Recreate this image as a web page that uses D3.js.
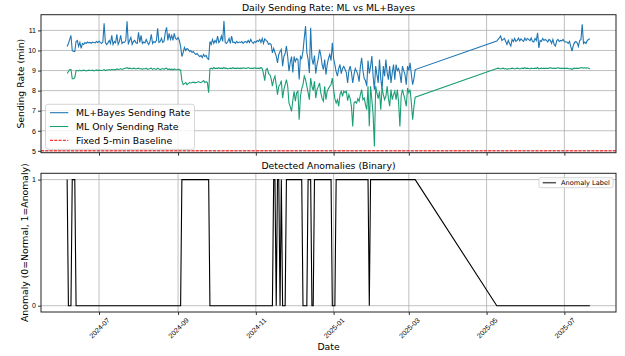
<!DOCTYPE html>
<html>
<head>
<meta charset="utf-8">
<script src="https://cdn.jsdelivr.net/npm/d3@7"></script>
<style>
  body { margin: 0; background: #fff; }
  svg { display: block; font-family: 'DejaVu Sans', sans-serif; }
  .grid line { stroke: #b0b0b0; stroke-width: 0.8; }
  .tick line { stroke: #000; stroke-width: 0.8; }
  .tick text { fill: #000; font-size: 7px; }
  .frame { fill: none; stroke: #222; stroke-width: 1; }
  .title, .label { font-size: 9.3px; fill: #000; }
</style>
</head>
<body>
<div id="chart"></div>
<script>
// first run of daily values, 2024-06-06 .. 2025-03-06
const seg1Start = '2024-06-06';
const bayesRate1 = [
  10.2, 10.35, 10.55, 10.75, 10.0, 9.95, 9.95, 10.45, 10.5, 10.2,
  10.4, 10.1, 10.35, 10.3, 10.4, 10.35, 10.42, 10.38, 10.4, 10.36,
  10.42, 10.4, 10.38, 10.45, 10.4, 10.46, 10.4, 10.35, 10.42, 11.35,
  10.4, 10.3, 10.38, 10.5, 10.35, 10.75, 10.3, 10.45, 10.38, 10.8,
  10.3, 10.45, 10.75, 10.35, 10.42, 10.4, 10.5, 11.45, 10.3, 10.5,
  10.65, 10.3, 10.45, 10.5, 10.38, 10.35, 10.9, 10.4, 10.75, 10.35,
  10.42, 10.38, 10.55, 10.4, 10.3, 10.45, 10.8, 10.35, 10.45, 10.4,
  10.5, 11.1, 10.4, 10.45, 10.6, 10.4, 10.45, 10.9, 11.15, 10.5,
  10.85, 10.55, 10.75, 10.5, 10.85, 10.6, 10.55, 10.65, 10.5, 10.2,
  9.7, 9.9, 10.15, 10.0, 10.1, 10.05, 9.95, 10.0, 9.9, 9.95,
  9.85, 9.8, 9.85, 9.75, 9.7, 9.75, 9.65, 9.8, 9.7, 9.75,
  9.6, 9.55, 10.45, 10.3, 10.55, 10.35, 10.5, 10.4, 10.72, 10.4,
  10.5, 10.72, 10.45, 11.47, 10.4, 10.35, 10.45, 10.6, 10.35, 10.72,
  10.4, 10.42, 10.35, 10.45, 10.38, 10.42, 10.4, 10.45, 10.35, 10.42,
  10.45, 10.38, 10.5, 10.4, 10.55, 10.42, 10.35, 10.45, 10.4, 10.5,
  10.45, 10.55, 10.4, 10.6, 10.35, 10.58, 10.5, 10.45, 10.3, 10.35,
  10.3, 9.88, 10.1, 9.9, 9.72, 9.38, 9.8, 9.95, 10.05, 9.22,
  9.7, 9.85, 10.22, 9.7, 8.97, 9.4, 9.7, 8.9, 9.7, 9.45,
  9.6, 9.55, 8.55, 9.7, 9.6, 9.97, 10.63, 11.22, 9.9, 9.55,
  8.88, 11.13, 9.6, 9.3, 9.75, 8.85, 9.3, 9.6, 10.05, 9.75,
  9.3, 9.05, 9.55, 8.8, 9.3, 9.6, 9.8, 9.5, 10.38, 9.6,
  9.3, 8.95, 8.72, 9.1, 9.3, 8.85, 9.1, 9.2, 9.05, 8.9,
  8.38, 9.0, 9.22, 8.9, 8.38, 8.8, 9.1, 8.97, 8.8, 8.45,
  9.2, 9.63, 9.0, 8.6, 8.5, 8.22, 9.5, 8.85, 9.2, 9.72,
  8.7, 8.05, 9.22, 8.8, 8.38, 9.55, 8.6, 8.05, 9.22, 8.72,
  9.55, 8.9, 8.55, 9.22, 8.38, 8.9, 9.3, 8.55, 9.3, 9.0,
  9.1, 8.85, 8.38, 9.22, 9.0, 8.8, 8.3, 9.22, 9.0, 9.38,
  8.8, 8.3, 8.6, 9.05
];
const mlRate1 = [
  8.85, 8.95, 9.05, 9.05, 8.6, 8.6, 8.65, 9.0, 9.0, 8.98,
  9.02, 8.98, 9.0, 9.02, 9.0, 8.98, 9.0, 9.02, 9.0, 9.0,
  9.02, 8.98, 9.0, 9.03, 9.0, 9.02, 9.0, 9.0, 9.02, 9.05,
  9.0, 9.02, 9.03, 9.05, 9.02, 9.06, 9.03, 9.05, 9.04, 9.08,
  9.05, 9.06, 9.1, 9.06, 9.08, 9.1, 9.12, 9.15, 9.1, 9.12,
  9.1, 9.08, 9.12, 9.1, 9.08, 9.1, 9.12, 9.08, 9.1, 9.06,
  9.1, 9.08, 9.12, 9.06, 9.08, 9.1, 9.12, 9.06, 9.1, 9.08,
  9.06, 9.12, 9.08, 9.05, 9.08, 9.1, 9.06, 9.1, 9.12, 9.05,
  9.08, 9.05, 9.07, 9.04, 9.08, 9.05, 9.04, 9.06, 9.05, 9.02,
  8.5, 8.3, 8.35, 8.4, 8.3, 8.35, 8.4, 8.38, 8.4, 8.42,
  8.4, 8.4, 8.42, 8.45, 8.42, 8.4, 8.45, 8.5, 8.4, 8.45,
  8.4, 7.9, 9.1, 9.12, 9.08, 9.15, 9.1, 9.12, 9.1, 9.14,
  9.1, 9.12, 9.1, 9.15, 9.1, 9.12, 9.08, 9.1, 9.12, 9.1,
  9.14, 9.1, 9.12, 9.1, 9.13, 9.1, 9.12, 9.1, 9.14, 9.12,
  9.1, 9.12, 9.15, 9.12, 9.1, 9.12, 9.1, 9.14, 9.12, 9.1,
  9.12, 9.1, 9.15, 9.1, 8.85, 8.5, 9.05, 9.1, 8.85, 8.8,
  8.6, 8.22, 8.55, 8.72, 8.3, 7.8, 8.22, 8.3, 8.5, 7.63,
  8.05, 8.3, 8.55, 8.22, 7.38, 7.2, 6.97, 7.5, 7.97, 7.47,
  7.9, 7.97, 6.55, 7.72, 8.1, 8.3, 8.72, 8.55, 8.22, 7.9,
  7.55, 8.63, 8.22, 8.0, 8.47, 7.63, 8.05, 8.2, 8.38, 7.88,
  7.6, 7.47, 8.22, 7.55, 7.97, 8.1, 8.22, 8.3, 8.63, 8.05,
  7.6, 7.38, 7.55, 7.22, 7.8, 7.97, 7.72, 7.97, 7.9, 7.97,
  7.5, 7.8, 7.6, 7.2, 6.22, 7.38, 7.45, 7.38, 7.6, 7.47,
  7.8, 8.05, 7.55, 7.63, 7.3, 7.05, 8.22, 6.22, 8.22, 7.55,
  6.8, 5.22, 8.22, 7.88, 7.6, 7.97, 7.05, 8.13, 7.8, 7.55,
  7.72, 8.22, 7.6, 7.22, 8.05, 7.55, 7.8, 7.97, 7.55, 8.05,
  7.4, 6.22, 7.72, 8.05, 7.8, 7.55, 7.22, 8.13, 7.9, 8.05,
  7.38, 6.55, 7.2, 7.67
];
const anomaly1 = [
  1, 0, 0, 0, 1, 1, 1, 0, 0, 0,
  0, 0, 0, 0, 0, 0, 0, 0, 0, 0,
  0, 0, 0, 0, 0, 0, 0, 0, 0, 0,
  0, 0, 0, 0, 0, 0, 0, 0, 0, 0,
  0, 0, 0, 0, 0, 0, 0, 0, 0, 0,
  0, 0, 0, 0, 0, 0, 0, 0, 0, 0,
  0, 0, 0, 0, 0, 0, 0, 0, 0, 0,
  0, 0, 0, 0, 0, 0, 0, 0, 0, 0,
  0, 0, 0, 0, 0, 0, 0, 0, 0, 0,
  1, 1, 1, 1, 1, 1, 1, 1, 1, 1,
  1, 1, 1, 1, 1, 1, 1, 1, 1, 1,
  1, 1, 0, 0, 0, 0, 0, 0, 0, 0,
  0, 0, 0, 0, 0, 0, 0, 0, 0, 0,
  0, 0, 0, 0, 0, 0, 0, 0, 0, 0,
  0, 0, 0, 0, 0, 0, 0, 0, 0, 0,
  0, 0, 0, 0, 0, 0, 0, 0, 0, 0,
  0, 0, 1, 1, 0, 1, 1, 0, 1, 0,
  0, 0, 1, 1, 1, 1, 1, 1, 1, 1,
  1, 1, 1, 1, 1, 0, 0, 0, 0, 1,
  1, 1, 0, 0, 1, 1, 1, 1, 1, 1,
  1, 1, 1, 1, 1, 1, 1, 1, 0, 0,
  0, 1, 1, 1, 1, 1, 1, 1, 1, 1,
  1, 1, 1, 1, 1, 1, 1, 1, 1, 1,
  1, 1, 1, 1, 1, 1, 1, 0, 1, 1,
  1, 1, 1, 1, 1, 1, 1, 1, 1, 1,
  1, 1, 1, 1, 1, 1, 1, 1, 1, 1,
  1, 1, 1, 1, 1, 1, 1, 1, 1, 1,
  1, 1, 1, 1
];

// second run of daily values, 2025-05-09 .. 2025-07-21
const seg2Start = '2025-05-09';
const bayesRate2 = [
  10.47, 10.55, 10.63, 10.72, 10.5, 10.55, 10.6, 10.45, 10.3, 10.5,
  10.35, 10.22, 10.55, 10.45, 10.6, 10.45, 10.5, 10.62, 10.48, 10.58,
  10.5, 10.45, 10.62, 10.5, 10.6, 10.55, 10.48, 10.62, 10.45, 10.42,
  10.6, 10.5, 10.88, 10.13, 10.5, 10.45, 10.6, 10.5, 10.55, 10.5,
  10.42, 10.55, 10.5, 10.35, 10.55, 10.3, 10.22, 10.48, 10.55, 10.45,
  10.5, 10.48, 10.55, 10.45, 10.42, 10.42, 10.35, 10.45, 10.2, 9.97,
  10.25, 10.4, 10.45, 10.38, 10.2, 10.5, 10.55, 11.3, 10.35, 10.42,
  10.35, 10.5, 10.55, 10.58
];
const mlRate2 = [
  9.1, 9.12, 9.1, 9.08, 9.1, 9.12, 9.08, 9.1, 9.06, 9.1,
  9.08, 9.1, 9.12, 9.1, 9.08, 9.1, 9.12, 9.1, 9.08, 9.1,
  9.12, 9.1, 9.14, 9.1, 9.12, 9.1, 9.08, 9.12, 9.1, 9.1,
  9.12, 9.1, 9.15, 9.08, 9.1, 9.12, 9.1, 9.12, 9.1, 9.12,
  9.1, 9.12, 9.14, 9.12, 9.1, 9.12, 9.1, 9.12, 9.14, 9.12,
  9.1, 9.12, 9.1, 9.12, 9.1, 9.12, 9.1, 9.08, 9.1, 9.05,
  9.1, 9.12, 9.1, 9.12, 9.1, 9.12, 9.14, 9.15, 9.12, 9.14,
  9.12, 9.14, 9.12, 9.08
];
const anomaly2 = [
  0, 0, 0, 0, 0, 0, 0, 0, 0, 0,
  0, 0, 0, 0, 0, 0, 0, 0, 0, 0,
  0, 0, 0, 0, 0, 0, 0, 0, 0, 0,
  0, 0, 0, 0, 0, 0, 0, 0, 0, 0,
  0, 0, 0, 0, 0, 0, 0, 0, 0, 0,
  0, 0, 0, 0, 0, 0, 0, 0, 0, 0,
  0, 0, 0, 0, 0, 0, 0, 0, 0, 0,
  0, 0, 0, 0
];

const baselineRate = 5;
const xTickLabels = ['2024-07', '2024-09', '2024-11', '2025-01', '2025-03', '2025-05', '2025-07'];
const rateTicks = [5, 6, 7, 8, 9, 10, 11];
const anomalyTicks = [0, 1];

const width = 625;
const height = 356;
const plotLeft = 41;
const plotRight = 616;
const topPanel = { top: 14.7, bottom: 152.7 };
const bottomPanel = { top: 173.3, bottom: 312 };

const colors = { bayes: '#1f77b4', ml: '#1b9e77', baseline: '#ff0000', anomaly: '#000' };

const parseDay = d3.utcParse('%Y-%m-%d');
const parseMonth = d3.utcParse('%Y-%m');

function toRows(start, bayes, ml, anomaly) {
  const t0 = parseDay(start);
  return bayes.map((v, i) => ({ date: d3.utcDay.offset(t0, i), bayes: v, ml: ml[i], anomaly: anomaly[i] }));
}

const rows = toRows(seg1Start, bayesRate1, mlRate1, anomaly1)
  .concat(toRows(seg2Start, bayesRate2, mlRate2, anomaly2));

// matplotlib-style 5% margins
const [d0, d1] = d3.extent(rows, (d) => d.date);
const xPad = (d1 - d0) * 0.05;
const x = d3.scaleUtc()
  .domain([new Date(+d0 - xPad), new Date(+d1 + xPad)])
  .range([plotLeft, plotRight]);

const rateMin = d3.min(rows, (d) => Math.min(d.bayes, d.ml));
const rateMax = d3.max(rows, (d) => Math.max(d.bayes, d.ml));
const yPad = (rateMax - rateMin) * 0.05;
const yRate = d3.scaleLinear()
  .domain([rateMin - yPad, rateMax + yPad])
  .range([topPanel.bottom, topPanel.top]);

const yAnom = d3.scaleLinear()
  .domain([-0.05, 1.05])
  .range([bottomPanel.bottom, bottomPanel.top]);

const xTicks = xTickLabels.map(parseMonth);

const svg = d3.select('#chart')
  .append('svg')
  .attr('width', width)
  .attr('height', height);

function drawGrid(panel, yScale, yTicks) {
  const g = svg.append('g').attr('class', 'grid');
  g.selectAll('.gx')
    .data(xTicks)
    .join('line')
    .attr('x1', (d) => x(d)).attr('x2', (d) => x(d))
    .attr('y1', panel.top).attr('y2', panel.bottom);
  g.selectAll('.gy')
    .data(yTicks)
    .join('line')
    .attr('x1', plotLeft).attr('x2', plotRight)
    .attr('y1', (d) => yScale(d)).attr('y2', (d) => yScale(d));
}

function drawAxes(panel, yScale, yTicks, showDates) {
  const yAxis = svg.append('g')
    .attr('transform', `translate(${plotLeft}, 0)`)
    .call(d3.axisLeft(yScale).tickValues(yTicks).tickSize(3).tickPadding(2).tickFormat(d3.format('d')));
  yAxis.select('.domain').remove();

  const xAxis = svg.append('g')
    .attr('transform', `translate(0, ${panel.bottom})`)
    .call(d3.axisBottom(x).tickValues(xTicks).tickSize(3)
      .tickFormat(showDates ? d3.utcFormat('%Y-%m') : ''));
  xAxis.select('.domain').remove();

  if (showDates) {
    xAxis.selectAll('.tick text')
      .attr('y', 0)
      .attr('dy', '0.35em')
      .attr('text-anchor', 'middle')
      .attr('transform', 'translate(0, 16) rotate(-45)');
  }

  svg.append('rect')
    .attr('class', 'frame')
    .attr('x', plotLeft)
    .attr('y', panel.top)
    .attr('width', plotRight - plotLeft)
    .attr('height', panel.bottom - panel.top);
}

// top panel
drawGrid(topPanel, yRate, rateTicks);

const bayesLine = d3.line().x((d) => x(d.date)).y((d) => yRate(d.bayes));
const mlLine = d3.line().x((d) => x(d.date)).y((d) => yRate(d.ml));

svg.append('path')
  .datum(rows)
  .attr('fill', 'none')
  .attr('stroke', colors.bayes)
  .attr('stroke-width', 1.1)
  .attr('d', bayesLine);

svg.append('path')
  .datum(rows)
  .attr('fill', 'none')
  .attr('stroke', colors.ml)
  .attr('stroke-width', 1.1)
  .attr('d', mlLine);

svg.append('line')
  .attr('x1', plotLeft).attr('x2', plotRight)
  .attr('y1', yRate(baselineRate)).attr('y2', yRate(baselineRate))
  .attr('stroke', colors.baseline)
  .attr('stroke-width', 1)
  .attr('stroke-dasharray', '3,1.3');

drawAxes(topPanel, yRate, rateTicks, false);

svg.append('text')
  .attr('class', 'title')
  .attr('x', (plotLeft + plotRight) / 2)
  .attr('y', 11)
  .attr('text-anchor', 'middle')
  .text('Daily Sending Rate: ML vs ML+Bayes');

svg.append('text')
  .attr('class', 'label')
  .attr('text-anchor', 'middle')
  .attr('dy', '0.35em')
  .attr('transform', `translate(20.7, ${(topPanel.top + topPanel.bottom) / 2}) rotate(-90)`)
  .text('Sending Rate (min)');

// top legend
const legendTop = svg.append('g').attr('transform', 'translate(45.5, 104.3)');
legendTop.append('rect')
  .attr('width', 149).attr('height', 45)
  .attr('rx', 2.5)
  .attr('fill', '#fff').attr('fill-opacity', 0.8)
  .attr('stroke', '#cccccc').attr('stroke-width', 0.8);

const legendItems = [
  { label: 'ML+Bayes Sending Rate', color: colors.bayes, dash: null },
  { label: 'ML Only Sending Rate', color: colors.ml, dash: null },
  { label: 'Fixed 5-min Baseline', color: colors.baseline, dash: '3,1.3' },
];
legendItems.forEach((item, i) => {
  const cy = 8.4 + i * 13.8;
  legendTop.append('line')
    .attr('x1', 4.5).attr('x2', 22.8)
    .attr('y1', cy).attr('y2', cy)
    .attr('stroke', item.color)
    .attr('stroke-width', item.dash ? 1 : 1.1)
    .attr('stroke-dasharray', item.dash);
  legendTop.append('text')
    .attr('class', 'label')
    .attr('x', 30.5)
    .attr('y', cy)
    .attr('dy', '0.35em')
    .text(item.label);
});

// bottom panel
drawGrid(bottomPanel, yAnom, anomalyTicks);

svg.append('path')
  .datum(rows)
  .attr('fill', 'none')
  .attr('stroke', colors.anomaly)
  .attr('stroke-width', 1.1)
  .attr('d', d3.line().x((d) => x(d.date)).y((d) => yAnom(d.anomaly)));

drawAxes(bottomPanel, yAnom, anomalyTicks, true);

svg.append('text')
  .attr('class', 'title')
  .attr('x', (plotLeft + plotRight) / 2)
  .attr('y', 169)
  .attr('text-anchor', 'middle')
  .text('Detected Anomalies (Binary)');

svg.append('text')
  .attr('class', 'label')
  .attr('text-anchor', 'middle')
  .attr('dy', '0.35em')
  .attr('transform', `translate(25, ${(bottomPanel.top + bottomPanel.bottom) / 2}) rotate(-90)`)
  .text('Anomaly (0=Normal, 1=Anomaly)');

svg.append('text')
  .attr('class', 'label')
  .attr('x', (plotLeft + plotRight) / 2)
  .attr('y', 350)
  .attr('text-anchor', 'middle')
  .text('Date');

// bottom legend
const legendBottom = svg.append('g').attr('transform', 'translate(539, 177.7)');
legendBottom.append('rect')
  .attr('width', 74).attr('height', 10)
  .attr('rx', 1.5)
  .attr('fill', '#fff').attr('fill-opacity', 0.8)
  .attr('stroke', '#cccccc').attr('stroke-width', 0.8);
legendBottom.append('line')
  .attr('x1', 3.7).attr('x2', 17)
  .attr('y1', 5).attr('y2', 5)
  .attr('stroke', '#555')
  .attr('stroke-width', 1.5);
legendBottom.append('text')
  .attr('x', 22)
  .attr('y', 5)
  .attr('dy', '0.35em')
  .attr('font-size', '6.6px')
  .text('Anomaly Label');
</script>
</body>
</html>
